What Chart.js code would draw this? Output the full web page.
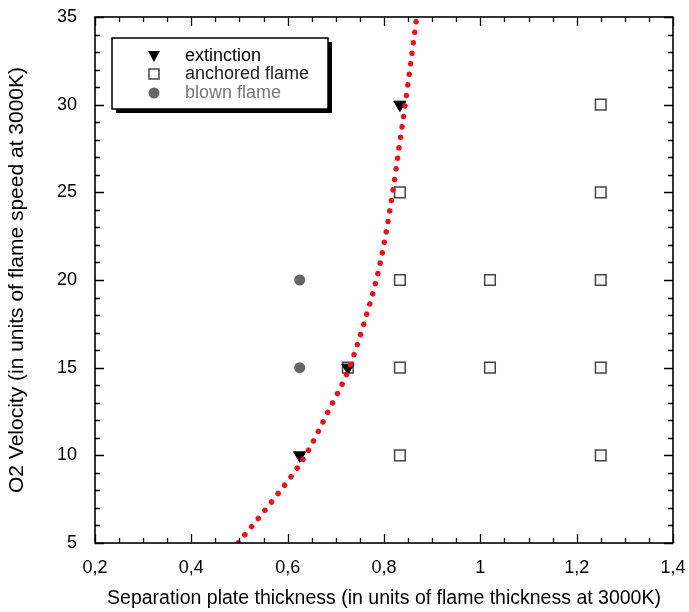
<!DOCTYPE html>
<html lang="en">
<head>
  <meta charset="UTF-8">
  <title>Flame anchoring vs plate thickness</title>
  <script src="https://cdn.jsdelivr.net/npm/chart.js"></script>
  <style>
    html, body { margin: 0; padding: 0; background: #fff; }
    #wrap { width: 689px; height: 612px; }
  </style>
</head>
<body>
  <div id="wrap"><canvas id="c"></canvas></div>
  <script>
    // points
    const extinctionX = [0.625, 0.725, 0.833];
    const extinctionY = [10, 15, 30];
    const anchoredX = [0.725, 0.833, 0.833, 0.833, 0.833, 1.02, 1.02, 1.25, 1.25, 1.25, 1.25, 1.25];
    const anchoredY = [15, 10, 15, 20, 25, 15, 20, 10, 15, 20, 25, 30];
    const blownX = [0.625, 0.625];
    const blownY = [15, 20];
    // dotted fit curve
    const curveX = [0.497, 0.571, 0.637, 0.684, 0.728, 0.758, 0.784, 0.803, 0.818, 0.831, 0.844, 0.856, 0.868];
    const curveY = [5, 7.5, 10, 12.5, 15, 17.5, 20, 22.5, 25, 27.5, 30, 32.5, 35];
    // axes
    const xTicks = [0.2, 0.4, 0.6, 0.8, 1.0, 1.2, 1.4];
    const xTickLabels = ['0,2', '0,4', '0,6', '0,8', '1', '1,2', '1,4'];
    const yTicks = [5, 10, 15, 20, 25, 30, 35];
    const legendLabels = ['extinction', 'anchored flame', 'blown flame'];

    const pts = (xs, ys) => xs.map((x, i) => ({ x: x, y: ys[i] }));
    const FONT = 'Arial, "Liberation Sans", sans-serif';

    const framePlugin = {
      id: 'frame',
      afterDraw(chart) {
        const { ctx, chartArea: a, scales: { x, y } } = chart;
        ctx.save();
        ctx.strokeStyle = '#000';
        ctx.lineWidth = 1.6;
        ctx.strokeRect(a.left, a.top, a.right - a.left, a.bottom - a.top);
        ctx.lineWidth = 1.3;
        ctx.beginPath();
        for (let v = 0.2; v <= 1.4001; v += 0.05) {
          const px = Math.round(x.getPixelForValue(v)) + 0.5;
          const major = Math.abs(v * 5 - Math.round(v * 5)) < 0.01;
          const len = major ? 9 : 5;
          ctx.moveTo(px, a.bottom); ctx.lineTo(px, a.bottom - len);
          ctx.moveTo(px, a.top); ctx.lineTo(px, a.top + len);
        }
        for (let v = 5; v <= 35; v += 1) {
          const py = Math.round(y.getPixelForValue(v)) + 0.5;
          const len = v % 5 === 0 ? 9 : 5;
          ctx.moveTo(a.left, py); ctx.lineTo(a.left + len, py);
          ctx.moveTo(a.right, py); ctx.lineTo(a.right - len, py);
        }
        ctx.stroke();

        // legend box with drop shadow
        const bx = 112, by = 38, bw = 216, bh = 71;
        ctx.fillStyle = '#000';
        ctx.fillRect(bx + 4, by + 4, bw, bh);
        ctx.fillStyle = '#fff';
        ctx.fillRect(bx, by, bw, bh);
        ctx.lineWidth = 1.5;
        ctx.strokeRect(bx, by, bw, bh);

        const rows = [56, 74, 93];
        const sx = 154;
        // triangle
        ctx.fillStyle = '#000';
        ctx.beginPath();
        ctx.moveTo(sx - 6, rows[0] - 5); ctx.lineTo(sx + 6, rows[0] - 5); ctx.lineTo(sx, rows[0] + 6);
        ctx.closePath(); ctx.fill();
        // square
        ctx.strokeStyle = '#444';
        ctx.lineWidth = 1.5;
        ctx.strokeRect(sx - 5, rows[1] - 5, 10, 10);
        // circle
        ctx.fillStyle = '#666';
        ctx.beginPath(); ctx.arc(sx, rows[2], 5.5, 0, Math.PI * 2); ctx.fill();

        ctx.font = '18px ' + FONT;
        ctx.textBaseline = 'middle';
        const colors = ['#000', '#222', '#777'];
        legendLabels.forEach((t, i) => {
          ctx.fillStyle = colors[i];
          ctx.fillText(t, 185, rows[i]);
        });
        ctx.restore();
      }
    };

    new Chart(document.getElementById('c'), {
      type: 'scatter',
      data: {
        datasets: [
          {
            label: 'fit',
            type: 'line',
            data: pts(curveX, curveY),
            borderColor: '#e8141c',
            borderWidth: 5.5,
            borderDash: [0.1, 10.5],
            borderCapStyle: 'round',
            pointRadius: 0,
            cubicInterpolationMode: 'monotone',
            fill: false,
            order: 0
          },
          {
            label: legendLabels[0],
            data: pts(extinctionX, extinctionY),
            pointStyle: 'triangle',
            rotation: 180,
            radius: 7,
            backgroundColor: '#000',
            borderColor: '#000',
            borderWidth: 1,
            order: 1
          },
          {
            label: legendLabels[1],
            data: pts(anchoredX, anchoredY),
            pointStyle: 'rect',
            radius: 7.5,
            backgroundColor: 'rgba(0,0,0,0)',
            borderColor: '#444',
            borderWidth: 1.5,
            order: 2
          },
          {
            label: legendLabels[2],
            data: pts(blownX, blownY),
            pointStyle: 'circle',
            radius: 5.5,
            backgroundColor: '#666',
            borderColor: '#666',
            borderWidth: 0,
            order: 3
          }
        ]
      },
      options: {
        responsive: true,
        maintainAspectRatio: false,
        animation: false,
        layout: { padding: { top: 17, right: 16, left: 0, bottom: 0 } },
        plugins: {
          legend: { display: false },
          tooltip: { enabled: false }
        },
        scales: {
          x: {
            type: 'linear',
            min: 0.2,
            max: 1.4,
            afterBuildTicks: s => { s.ticks = xTicks.map(v => ({ value: v })); },
            afterFit: s => { s.height = 69; s.paddingLeft = 0; s.paddingRight = 0; },
            grid: { display: false, drawTicks: false },
            border: { display: false },
            ticks: {
              color: '#000',
              padding: 14,
              font: { size: 18, family: FONT },
              callback: (v, i) => xTickLabels[i]
            },
            title: {
              display: true,
              text: 'Separation plate thickness (in units of flame thickness at 3000K)',
              color: '#000',
              font: { size: 19.5, family: FONT },
              padding: { top: 2, bottom: 2 }
            }
          },
          y: {
            type: 'linear',
            min: 5,
            max: 35,
            afterBuildTicks: s => { s.ticks = yTicks.map(v => ({ value: v })); },
            afterFit: s => { s.width = 95; s.paddingTop = 0; s.paddingBottom = 0; },
            grid: { display: false, drawTicks: false },
            border: { display: false },
            ticks: {
              color: '#000',
              padding: 18,
              font: { size: 18, family: FONT }
            },
            title: {
              display: true,
              text: 'O2 Velocity (in units of flame speed at 3000K)',
              color: '#000',
              font: { size: 21, family: FONT },
              padding: { top: 5, bottom: 0 }
            }
          }
        }
      },
      plugins: [framePlugin]
    });
  </script>
</body>
</html>
